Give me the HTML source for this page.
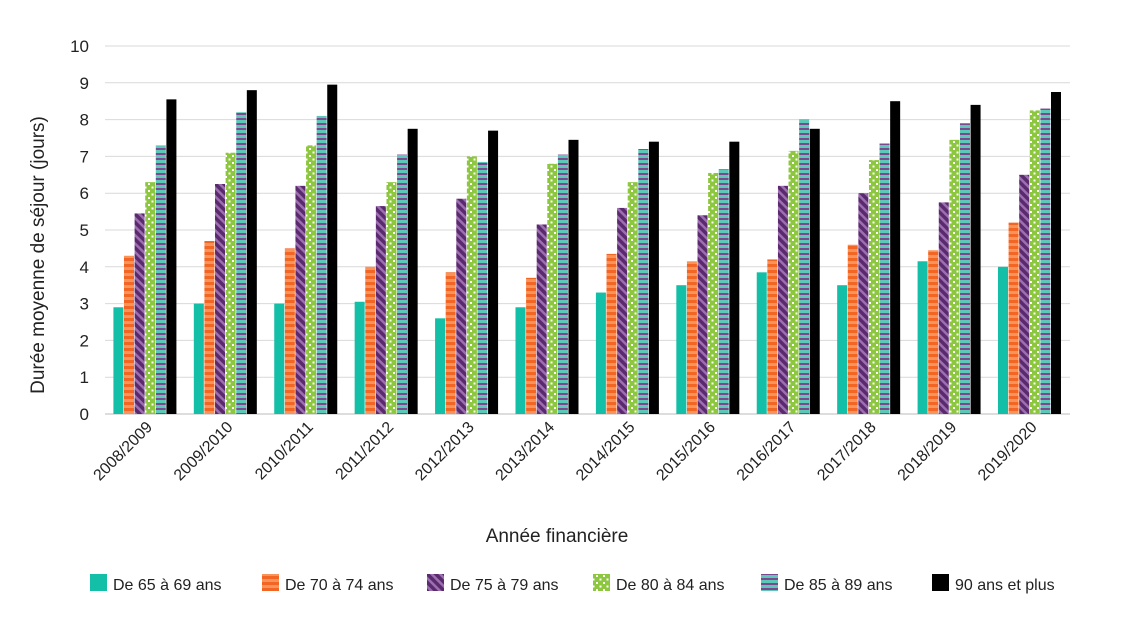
<!DOCTYPE html>
<html><head><meta charset="utf-8"><style>
body{margin:0;background:#fff;font-family:"Liberation Sans",sans-serif;}
svg text{font-family:"Liberation Sans",sans-serif;fill:#222;}
</style></head><body>
<svg id="chart" width="1125" height="617">
<defs>
<pattern id="pOr" width="6" height="6" patternUnits="userSpaceOnUse"><rect width="6" height="6" fill="#f26522"/><rect y="3" width="6" height="3" fill="#f7945c"/></pattern>
<pattern id="pPu" width="6" height="6" patternUnits="userSpaceOnUse" patternTransform="rotate(-45)"><rect width="6" height="6" fill="#5b2a6e"/><rect width="2.5" height="6" fill="#9b6fb0"/></pattern>
<pattern id="pGr" width="7" height="7" patternUnits="userSpaceOnUse"><rect width="7" height="7" fill="#8dc63f"/><rect x="1" y="1" width="2" height="2" fill="#fff"/><rect x="4.5" y="4.5" width="2" height="2" fill="#fff"/></pattern>
<pattern id="pBl" width="6" height="5" patternUnits="userSpaceOnUse"><rect width="6" height="5" fill="#5bc8b8"/><rect y="3" width="6" height="2" fill="#7b4a8e"/></pattern>
</defs>
<g id="grid"></g><g id="bars"></g><g id="axes"></g>
<text x="44" y="255" transform="rotate(-90 44 255)" text-anchor="middle" font-size="19">Durée moyenne de séjour (jours)</text>
<text x="557" y="542" text-anchor="middle" font-size="19">Année financière</text>
<g id="legend"></g>
</svg>
<script>
const categories=["2008/2009","2009/2010","2010/2011","2011/2012","2012/2013","2013/2014","2014/2015","2015/2016","2016/2017","2017/2018","2018/2019","2019/2020"];
const seriesNames=["De 65 à 69 ans","De 70 à 74 ans","De 75 à 79 ans","De 80 à 84 ans","De 85 à 89 ans","90 ans et plus"];
const s65=[2.9,3.0,3.0,3.05,2.6,2.9,3.3,3.5,3.85,3.5,4.15,4.0];
const s70=[4.3,4.7,4.5,4.0,3.85,3.7,4.35,4.15,4.2,4.6,4.45,5.2];
const s75=[5.45,6.25,6.2,5.65,5.85,5.15,5.6,5.4,6.2,6.0,5.75,6.5];
const s80=[6.3,7.1,7.3,6.3,7.0,6.8,6.3,6.55,7.15,6.9,7.45,8.25];
const s85=[7.3,8.2,8.1,7.05,6.85,7.05,7.2,6.65,8.0,7.35,7.9,8.3];
const s90=[8.55,8.8,8.95,7.75,7.7,7.45,7.4,7.4,7.75,8.5,8.4,8.75];
const yTicks=[0,1,2,3,4,5,6,7,8,9,10];
const series=[s65,s70,s75,s80,s85,s90];
const fills=["#13bfa6","url(#pOr)","url(#pPu)","url(#pGr)","url(#pBl)","#000"];
const NS="http://www.w3.org/2000/svg";
const x0=105,x1=1070,y0=414,yTop=46;
const y=v=>y0-(y0-yTop)*v/10;
const gw=(x1-x0)/categories.length, bw=10.6;
function mk(t,a,p){const e=document.createElementNS(NS,t);for(const k in a)e.setAttribute(k,a[k]);p.appendChild(e);return e;}
const grid=document.getElementById('grid'),axes=document.getElementById('axes'),bars=document.getElementById('bars');
yTicks.forEach(t=>{
 const l=mk('line',{x1:x0,x2:x1,y1:y(t),y2:y(t),stroke:t===0?'#bbb':'#d9d9d9','stroke-width':1},grid);
 
 
 const tx=mk('text',{x:89,y:y(t)+6,'text-anchor':'end','font-size':17},axes);tx.textContent=t;
 
 
});
categories.forEach((c,i)=>{
 const cx=x0+gw*(i+0.5);
 series.forEach((s,j)=>{
  const bx=cx-3*bw+j*bw;
  const r=mk('rect',{x:bx,y:y(s[i]),width:bw-0.6,height:y0-y(s[i]),fill:fills[j]},bars);
  
  
 });
 const tx=mk('text',{x:cx+8,y:428,'text-anchor':'end','font-size':16,transform:`rotate(-45 ${cx+8} 428)`},axes);tx.textContent=c;
 
 
});
const leg=document.getElementById('legend');
const lx=[90,262,427,593,761,932];
seriesNames.forEach((n,j)=>{
 const g=mk('g',{},leg);
 
 
 mk('rect',{x:lx[j],y:574,width:17,height:17,fill:fills[j]},g);
 const t=mk('text',{x:lx[j]+23,y:590,'font-size':16},g);t.textContent=n;
});
</script>
</body></html>
